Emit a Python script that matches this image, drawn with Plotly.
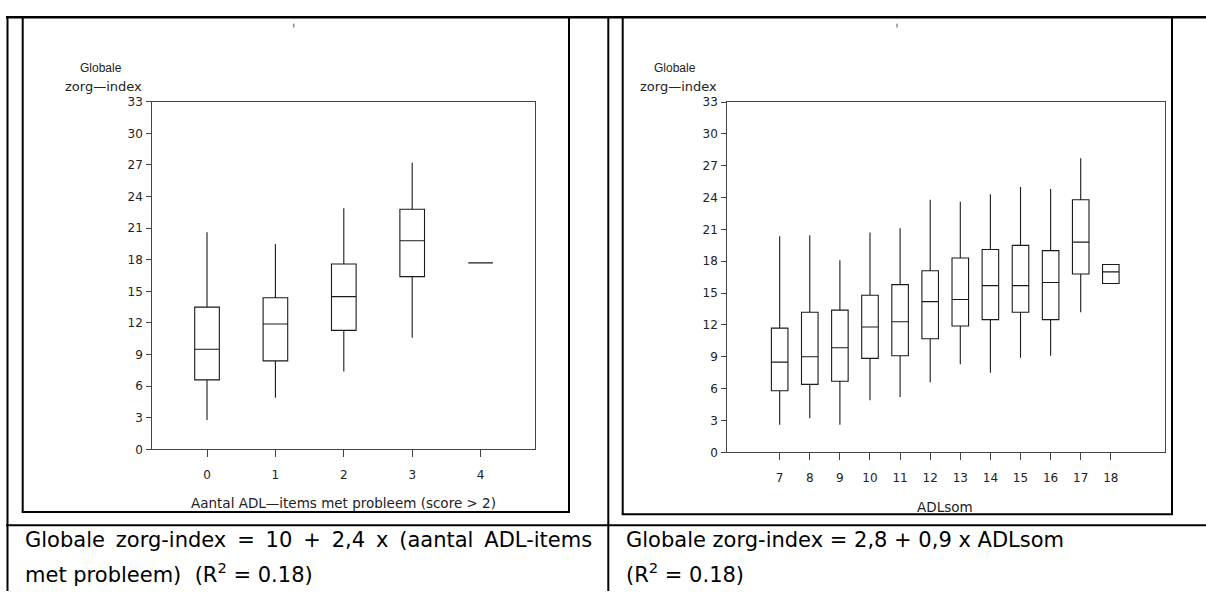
import plotly.graph_objects as go

W, H = 1206, 598

# ---------------- data ----------------
adl_items = [0, 1, 2, 3, 4]
c1_low = [2.8, 4.9, 7.4, 10.6, 17.7]
c1_q1 = [6.6, 8.4, 11.3, 16.4, 17.7]
c1_med = [9.5, 11.9, 14.5, 19.8, 17.7]
c1_q3 = [13.5, 14.4, 17.6, 22.8, 17.7]
c1_high = [20.6, 19.5, 22.9, 27.2, 17.7]

adl_som = [7, 8, 9, 10, 11, 12, 13, 14, 15, 16, 17, 18]
c2_low = [2.6, 3.2, 2.6, 4.9, 5.2, 6.6, 8.3, 7.5, 8.9, 9.1, 13.2, 15.9]
c2_q1 = [5.8, 6.4, 6.7, 8.85, 9.1, 10.7, 11.9, 12.5, 13.2, 12.5, 16.8, 15.9]
c2_med = [8.5, 9.0, 9.85, 11.8, 12.3, 14.2, 14.4, 15.7, 15.7, 16.0, 19.8, 17.0]
c2_q3 = [11.7, 13.2, 13.4, 14.8, 15.8, 17.1, 18.3, 19.1, 19.5, 19.0, 23.8, 17.7]
c2_high = [20.35, 20.45, 18.1, 20.7, 21.1, 23.8, 23.6, 24.3, 25.0, 24.8, 27.7, 17.7]

y_ticks = [0, 3, 6, 9, 12, 15, 18, 21, 24, 27, 30, 33]

y_title = ["Globale", "zorg\u2014index"]
x1_title = "Aantal ADL\u2014items met probleem (score > 2)"
x2_title = "ADLsom"
TS = " \u2009"  # widened (justified) word gap
cap1 = ["Globale" + TS + "zorg-index" + TS + "=" + TS + "10" + TS + "+" + TS + "2,4" + TS + "x"
        + TS + "(aantal" + TS + "ADL-items",
        "met probleem)\u00a0 (R<sup>2</sup> = 0.18)"]
cap2 = ["Globale zorg-index = 2,8 + 0,9 x ADLsom", "(R<sup>2</sup> = 0.18)"]


def px(x):
    return x / W


def py(y):
    return 1 - y / H


CHART_FONT = "DejaVu Sans, sans-serif"
NARROW_FONT = "Liberation Sans, Arial, sans-serif"
TEXT_FONT = "DejaVu Sans, sans-serif"

fig = go.Figure()

box_style = dict(line=dict(color="#1a1a1a", width=1.1), fillcolor="rgba(255,255,255,0)",
                 whiskerwidth=0, boxpoints=False, showlegend=False, hoverinfo="skip")

fig.add_trace(go.Box(x=adl_items, lowerfence=c1_low, q1=c1_q1, median=c1_med, q3=c1_q3,
                     upperfence=c1_high, width=0.36, xaxis="x", yaxis="y", **box_style))
fig.add_trace(go.Box(x=adl_som, lowerfence=c2_low, q1=c2_q1, median=c2_med, q3=c2_q3,
                     upperfence=c2_high, width=0.55, xaxis="x2", yaxis="y2", **box_style))

axis_common = dict(showline=True, linecolor="#444", linewidth=1, mirror=True, showgrid=False,
                   zeroline=False, ticks="outside", tickcolor="#444",
                   tickfont=dict(family=CHART_FONT, size=12, color="#222"))

fig.update_layout(
    width=W, height=H, margin=dict(l=0, r=0, t=0, b=0),
    paper_bgcolor="white", plot_bgcolor="white", showlegend=False,
    xaxis=dict(domain=[px(152.3), px(535.3)], anchor="y", range=[-0.8, 4.8],
               tickvals=adl_items, ticklen=7, ticklabelstandoff=7, **axis_common),
    yaxis=dict(domain=[py(453), py(97)], anchor="x", range=[0, 33], tickvals=y_ticks,
               ticklen=5, ticklabelstandoff=1, **axis_common),
    xaxis2=dict(domain=[px(727.3), px(1164.7)], anchor="y2", range=[5.26, 19.79],
                tickvals=adl_som, ticklen=7, ticklabelstandoff=7, **axis_common),
    yaxis2=dict(domain=[py(456), py(97.3)], anchor="x2", range=[0, 33], tickvals=y_ticks,
                ticklen=5, ticklabelstandoff=1, **axis_common),
)

# ---- table / frame lines (decoration) ----
shapes = []


def hline(y, x0, x1, w=2):
    shapes.append(dict(type="line", xref="paper", yref="paper", x0=px(x0), x1=px(x1),
                       y0=py(y), y1=py(y), line=dict(color="black", width=w)))


def vline(x, y0, y1, w=2, color="black"):
    shapes.append(dict(type="line", xref="paper", yref="paper", x0=px(x), x1=px(x),
                       y0=py(y0), y1=py(y1), line=dict(color=color, width=w)))


hline(10.5, 6, 1206, 2.5)
vline(7.5, 10, 598)
vline(22.7, 10, 517)
vline(569, 10, 517)
hline(517, 21.7, 570)
vline(608.3, 10, 598)
vline(622.7, 10, 519.3)
vline(1172, 10, 519.3)
hline(519.3, 621.7, 1173)
hline(530.7, 6, 1206)
vline(293.8, 17, 21, 1, "#555")
vline(897, 17, 21, 1, "#555")
fig.update_layout(shapes=shapes)

# ---- text ----
ann = []


def text(x, y, s, size, family, xanchor="center", color="#222"):
    ann.append(dict(xref="paper", yref="paper", x=px(x), y=py(y), text=s, showarrow=False,
                    xanchor=xanchor, yanchor="middle",
                    font=dict(family=family, size=size, color=color)))


text(100.5, 62, y_title[0], 12, NARROW_FONT)
text(103.5, 81, y_title[1], 13, CHART_FONT)
text(674.5, 62, y_title[0], 12, NARROW_FONT)
text(678, 81, y_title[1], 13, CHART_FONT)
text(343.5, 508, x1_title, 13.5, CHART_FONT)
text(945, 511.7, x2_title, 13.5, CHART_FONT)

text(22.7, 546, cap1[0], 21, TEXT_FONT, "left", "black")
text(22.7, 580, cap1[1], 21, TEXT_FONT, "left", "black")
text(623.5, 546, cap2[0], 21, TEXT_FONT, "left", "black")
text(623.5, 580, cap2[1], 21, TEXT_FONT, "left", "black")
fig.update_layout(annotations=ann)

fig.write_html("out.html")
